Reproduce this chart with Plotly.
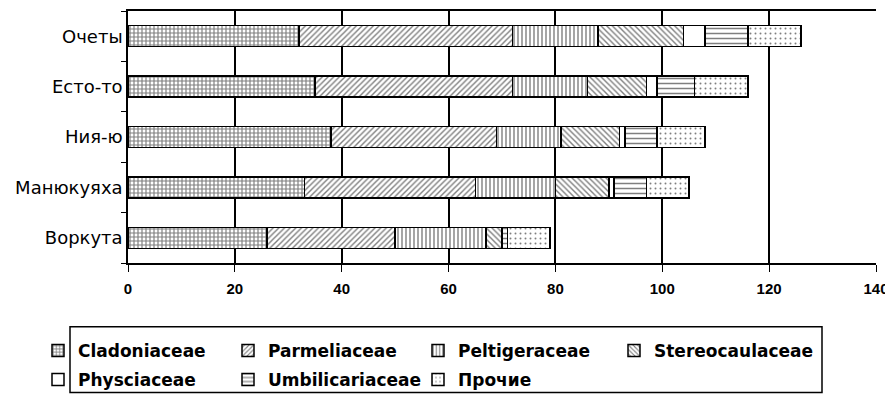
import plotly.graph_objects as go

categories = ["Воркута", "Манюкуяха", "Ния-ю", "Есто-то", "Очеты"]
families = ["Cladoniaceae", "Parmeliaceae", "Peltigeraceae", "Stereocaulaceae",
            "Physciaceae", "Umbilicariaceae", "Прочие"]
cladoniaceae = [26, 33, 38, 35, 32]
parmeliaceae = [24, 32, 31, 37, 40]
peltigeraceae = [17, 15, 12, 14, 16]
stereocaulaceae = [3, 10, 11, 11, 16]
physciaceae = [0, 1, 1, 2, 4]
umbilicariaceae = [1, 6, 6, 7, 8]
prochie = [8, 8, 9, 10, 10]
x_ticks = [0, 20, 40, 60, 80, 100, 120, 140]

series = [cladoniaceae, parmeliaceae, peltigeraceae, stereocaulaceae,
          physciaceae, umbilicariaceae, prochie]
patterns = [
    dict(shape="+", size=4, solidity=0.5, fgcolor="black", bgcolor="white"),
    dict(shape="/", size=4, solidity=0.35, fgcolor="black", bgcolor="white"),
    dict(shape="|", size=4, solidity=0.35, fgcolor="black", bgcolor="white"),
    dict(shape="\\", size=4, solidity=0.35, fgcolor="black", bgcolor="white"),
    dict(shape="", fgcolor="black", bgcolor="white"),
    dict(shape="-", size=5, solidity=0.3, fgcolor="black", bgcolor="white"),
    dict(shape=".", size=5, solidity=0.12, fgcolor="black", bgcolor="white"),
]

# page has an 8px body margin; work in page pixels and convert
OFF = 8
W, H = 893 - OFF, 400 - OFF
PL, PR, PT, PB = 128 - OFF, 876 - OFF, 11 - OFF, 264 - OFF
PW, PH = PR - PL, PB - PT

def px_x(x):
    return (x - OFF - PL) / PW

def px_y(y):
    return (PB - (y - OFF)) / PH

font = "Liberation Sans, Arial, sans-serif"
leg_font = "DejaVu Sans, sans-serif"
text_x = [87, 277, 467, 663]
row_y = [351, 380]
legend_pos = [(0, 0), (1, 0), (2, 0), (3, 0), (0, 1), (1, 1), (2, 1)]

fig = go.Figure()
leg_layout = {}
for i, (name, vals, pat) in enumerate(zip(families, series, patterns)):
    lid = "legend" if i == 0 else f"legend{i + 1}"
    fig.add_trace(go.Bar(
        y=categories, x=vals, name=name, orientation="h",
        marker=dict(color="white", pattern=pat, line=dict(color="black", width=1.5)),
        legend=lid,
    ))
    c, r = legend_pos[i]
    leg_layout[lid] = dict(
        orientation="v", font=dict(family=leg_font, size=17, color="black", weight="bold"),
        bgcolor="rgba(0,0,0,0)", borderwidth=0, itemwidth=30,
        x=px_x(text_x[c] - 49), xanchor="left",
        y=px_y(row_y[r]), yanchor="middle",
    )

fig.update_layout(
    width=W, height=H,
    margin=dict(l=PL, r=W - PR, t=PT, b=H - PB),
    paper_bgcolor="white", plot_bgcolor="white",
    barmode="stack", bargap=0.585,
    showlegend=True,
    font=dict(family=font, color="black"),
    xaxis=dict(range=[0, 140], tickvals=x_ticks, showgrid=True, gridcolor="black", gridwidth=1.5,
               showline=True, linecolor="black", linewidth=1.5, mirror=True,
               ticks="outside", ticklen=7, tickcolor="black", automargin=False,
               ticklabelstandoff=4,
               tickfont=dict(family=font, size=15, color="black", weight="bold"), zeroline=False),
    yaxis=dict(showline=True, linecolor="black", linewidth=1.5, ticks="outside", ticklen=5,
               tickson="boundaries", tickcolor="black", showgrid=False, automargin=False,
               tickfont=dict(family=leg_font, size=18, color="black")),
    shapes=[dict(type="rect", xref="paper", yref="paper",
                 x0=px_x(70), x1=px_x(822), y0=px_y(394), y1=px_y(328),
                 line=dict(color="black", width=1.5), fillcolor="rgba(0,0,0,0)")],
    **leg_layout,
)

fig.write_html("out.html")
